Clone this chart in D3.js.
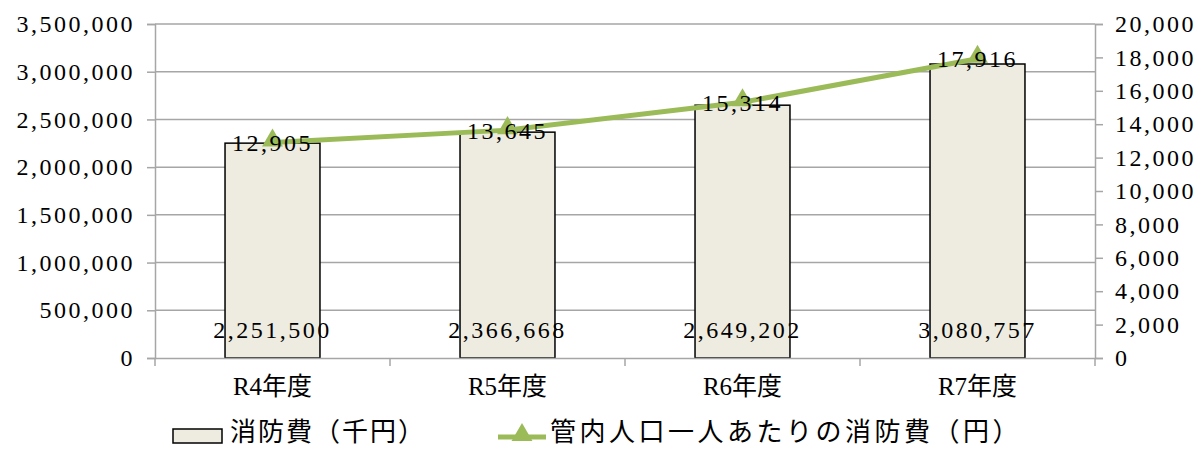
<!DOCTYPE html>
<html>
<head>
<meta charset="utf-8">
<script src="https://d3js.org/d3.v7.min.js"></script>
<style>
body { margin: 0; background: #fff; }
svg text { font-family: "Liberation Serif", "Noto Sans CJK JP", serif; fill: #000; }
</style>
</head>
<body>
<svg id="chart" width="1201" height="450"></svg>
<script>
var categories = ["R4年度", "R5年度", "R6年度", "R7年度"];
var costValues = [2251500, 2366668, 2649202, 3080757];       // 消防費（千円）
var perCapitaValues = [12905, 13645, 15314, 17916];          // 管内人口一人あたりの消防費（円）
var leftTicks = [0, 500000, 1000000, 1500000, 2000000, 2500000, 3000000, 3500000];
var rightTicks = [0, 2000, 4000, 6000, 8000, 10000, 12000, 14000, 16000, 18000, 20000];
var legendLabels = ["消防費（千円）", "管内人口一人あたりの消防費（円）"];

var plotLeft = 155, plotRight = 1095, plotTop = 24, plotBottom = 358;
var green = "#9bbb59", grid = "#a6a6a6";
var fmt = d3.format(",");

var svg = d3.select("#chart");

var x = d3.scaleBand().domain(categories).range([plotLeft, plotRight]);
var yL = d3.scaleLinear().domain([0, 3500000]).range([plotBottom, plotTop]);
var yR = d3.scaleLinear().domain([0, 20000]).range([plotBottom, plotTop]);

// gridlines
svg.append("g").selectAll("line").data(leftTicks.slice(1)).enter().append("line")
    .attr("x1", plotLeft).attr("x2", plotRight)
    .attr("y1", function(d) { return yL(d); }).attr("y2", function(d) { return yL(d); })
    .attr("stroke", grid).attr("stroke-width", 1.5);

// left axis
var axL = svg.append("g")
    .attr("transform", "translate(" + plotLeft + ",0)")
    .call(d3.axisLeft(yL).tickValues(leftTicks).tickSize(8).tickPadding(12).tickFormat(fmt));
// right axis
var axR = svg.append("g")
    .attr("transform", "translate(" + plotRight + ",0)")
    .call(d3.axisRight(yR).tickValues(rightTicks).tickSize(8).tickPadding(12).tickFormat(fmt));
[axL, axR].forEach(function(ax) {
    ax.select(".domain").attr("stroke", grid).attr("stroke-width", 1.5);
    ax.selectAll(".tick line").attr("stroke", grid).attr("stroke-width", 1.5);
    ax.selectAll(".tick text").style("font-size", "24px").attr("letter-spacing", "2.5").attr("fill", "#000");
});

// bars
var barW = x.bandwidth() * 0.404;
svg.append("g").selectAll("rect").data(costValues).enter().append("rect")
    .attr("x", function(d, i) { return x(categories[i]) + (x.bandwidth() - barW) / 2; })
    .attr("y", function(d) { return yL(d); })
    .attr("width", barW)
    .attr("height", function(d) { return plotBottom - yL(d); })
    .attr("fill", "#eeece1").attr("stroke", "#000").attr("stroke-width", 1.5);

// x axis
var axX = svg.append("g")
    .attr("transform", "translate(0," + plotBottom + ")")
    .call(d3.axisBottom(x).tickSize(0).tickPadding(19));
axX.select(".domain").attr("stroke", grid).attr("stroke-width", 1.5);
axX.selectAll(".tick text").style("font-size", "25px").attr("fill", "#000");
svg.append("g").selectAll("line").data(d3.range(categories.length + 1)).enter().append("line")
    .attr("x1", function(i) { return plotLeft + i * x.step(); })
    .attr("x2", function(i) { return plotLeft + i * x.step(); })
    .attr("y1", plotBottom).attr("y2", plotBottom + 8)
    .attr("stroke", grid).attr("stroke-width", 1.5);

// bar value labels
svg.append("g").selectAll("text").data(costValues).enter().append("text")
    .attr("x", function(d, i) { return x(categories[i]) + x.bandwidth() / 2; })
    .attr("y", 330)
    .attr("dy", "0.35em")
    .attr("text-anchor", "middle")
    .attr("letter-spacing", "2.5")
    .style("font-size", "24px")
    .text(fmt);

// line
var cx = function(i) { return x(categories[i]) + x.bandwidth() / 2; };
var line = d3.line()
    .x(function(d, i) { return cx(i); })
    .y(function(d) { return yR(d); });
svg.append("path").datum(perCapitaValues)
    .attr("d", line)
    .attr("fill", "none").attr("stroke", green).attr("stroke-width", 5);

var tri = d3.symbol().type(d3.symbolTriangle).size(190);
svg.append("g").selectAll("path").data(perCapitaValues).enter().append("path")
    .attr("d", tri)
    .attr("transform", function(d, i) { return "translate(" + cx(i) + "," + (yR(d) - 2) + ")"; })
    .attr("fill", green);

svg.append("g").selectAll("text").data(perCapitaValues).enter().append("text")
    .attr("x", function(d, i) { return cx(i); })
    .attr("y", function(d) { return yR(d); })
    .attr("dy", "0.35em")
    .attr("text-anchor", "middle")
    .attr("letter-spacing", "2.5")
    .style("font-size", "24px")
    .text(fmt);

// legend
var lg = svg.append("g");
lg.append("rect").attr("x", 173).attr("y", 429).attr("width", 49).attr("height", 14)
    .attr("fill", "#eeece1").attr("stroke", "#000").attr("stroke-width", 1.5);
lg.append("text").attr("x", 230).attr("y", 441)
    .style("font-size", "26px").style("font-family", "'Noto Sans CJK JP'")
    .attr("letter-spacing", "2")
    .text(legendLabels[0]);
lg.append("line").attr("x1", 498).attr("x2", 546).attr("y1", 437).attr("y2", 437)
    .attr("stroke", green).attr("stroke-width", 5);
lg.append("path").attr("d", tri).attr("transform", "translate(522,435)").attr("fill", green);
lg.append("text").attr("x", 550).attr("y", 441)
    .style("font-size", "26px").style("font-family", "'Noto Sans CJK JP'")
    .attr("letter-spacing", "3.5")
    .text(legendLabels[1]);
</script>
</body>
</html>
